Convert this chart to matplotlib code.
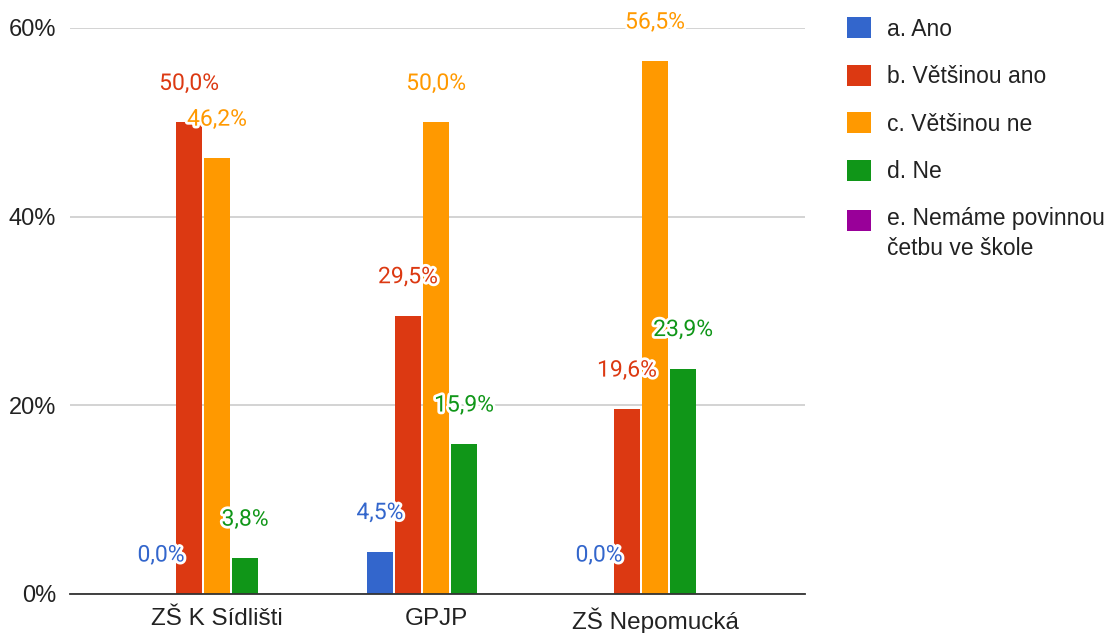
import numpy as np
import matplotlib
matplotlib.use("Agg")
import matplotlib.pyplot as plt
import matplotlib.patheffects as pe
from matplotlib.patches import Patch
from matplotlib.ticker import FuncFormatter

schools = ["ZŠ K Sídlišti", "GPJP", "ZŠ Nepomucká"]
answers = ["a. Ano", "b. Většinou ano", "c. Většinou ne", "d. Ne",
           "e. Nemáme povinnou\nčetbu ve škole"]
ano = [0.0, 4.5, 0.0]
vetsinou_ano = [50.0, 29.5, 19.6]
vetsinou_ne = [46.2, 50.0, 56.5]
ne = [3.8, 15.9, 23.9]
nemame = [np.nan, np.nan, np.nan]
series = [ano, vetsinou_ano, vetsinou_ne, ne, nemame]
colors = ["#3366cc", "#dc3912", "#ff9900", "#109618", "#990099"]

plt.rcParams['font.family'] = ['Liberation Sans', 'DejaVu Sans']

fig = plt.figure(figsize=(11.15, 6.33), dpi=100)
ax = fig.add_axes([70/1115, 39/633, 735/1115, 566/633])

x = np.arange(len(schools))
slot = 0.128
width = 0.119
for i, (vals, col) in enumerate(zip(series, colors)):
    pos = x + (i - 2) * slot
    v = np.array(vals, dtype=float)
    ax.bar(pos, np.nan_to_num(v), width=width, color=col, zorder=2)
    for xp, val in zip(pos, v):
        if np.isnan(val):
            continue
        ax.annotate(f"{val:.1f}%".replace(".", ","), (xp, val),
                    xytext=(0, 39), textcoords="offset pixels",
                    ha="center", va="center", fontsize=16.5,
                    family=["Roboto", "DejaVu Sans"], color=col, zorder=4,
                    path_effects=[pe.withStroke(linewidth=4, foreground="white")])

ax.set_xlim(-0.671, 2.685)
ax.set_ylim(0, 60)
ax.set_yticks([0, 20, 40, 60])
ax.yaxis.set_major_formatter(FuncFormatter(lambda v, p: f"{v:.0f}%"))
ax.set_xticks(x)
ax.set_xticklabels(schools)
ax.tick_params(axis="both", length=0, labelsize=17, colors="#222222")
ax.tick_params(axis="x", pad=10, labelsize=17.5)
ax.tick_params(axis="y", pad=10)
ax.grid(axis="y", color="#cccccc", linewidth=1.2, zorder=0)
for s in ["top", "right", "left"]:
    ax.spines[s].set_visible(False)
ax.spines["bottom"].set_color("#333333")
ax.spines["bottom"].set_linewidth(1.3)
ax.spines["bottom"].set_zorder(3)

handles = [Patch(facecolor=c, edgecolor="none") for c in colors]
leg = fig.legend(handles, answers, loc="upper left",
                 bbox_to_anchor=(838/1115, 1 - 8/633), frameon=False,
                 fontsize=16.5, handlelength=1.05, handleheight=1.05,
                 handletextpad=0.7, labelspacing=1.05, borderaxespad=0,
                 labelcolor="#222222")
leg.get_texts()[-1].set_linespacing(1.35)
# square of the two-line entry sits next to its first line
last = leg.get_patches()[-1]
last.set_y(last.get_y() + 10)

fig.savefig("out.png", dpi=100)
